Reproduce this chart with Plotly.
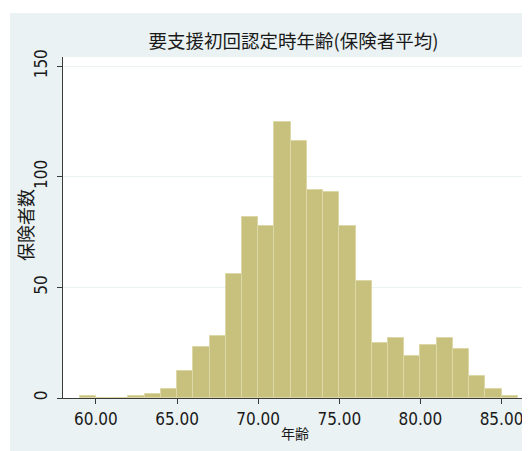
import plotly.graph_objects as go

# ---- data ----
bin_left_edges = [59, 60, 61, 62, 63, 64, 65, 66, 67, 68, 69, 70, 71, 72, 73,
                  74, 75, 76, 77, 78, 79, 80, 81, 82, 83, 84, 85]
counts = [1, 0, 0, 1, 2, 4, 12, 23, 28, 56, 82, 78, 125, 116, 94,
          93, 78, 53, 25, 27, 19, 24, 27, 22, 10, 4, 1]
bin_width = 1.0

x_tick_vals = [60, 65, 70, 75, 80, 85]
x_tick_text = ["60.00", "65.00", "70.00", "75.00", "80.00", "85.00"]
y_tick_vals = [0, 50, 100, 150]
y_tick_text = ["0", "50", "100", "150"]

title_text = "要支援初回認定時年齢(保険者平均)"
x_title = "年齢"
y_title = "保険者数"

# ---- style ----
BG = "#EAF2F3"
BAR = "#C8C17E"
BAR_LINE = "#DCD7A6"
AXIS = "#3a3a3a"
CJK = "Noto Sans CJK JP, Noto Sans CJK SC, sans-serif"
NUM = "Liberation Sans Narrow, Arial Narrow, DejaVu Sans Condensed, Liberation Sans, Arial, sans-serif"

# the page body has an 8px margin, so the figure is 8px smaller than the window
W, H = 522, 443

fig = go.Figure()
fig.add_trace(go.Bar(
    x=bin_left_edges, y=counts, width=bin_width, offset=0,
    marker=dict(color=BAR, line=dict(color=BAR_LINE, width=1)),
    hoverinfo="x+y", showlegend=False,
))

fig.update_layout(
    width=W, height=H,
    margin=dict(l=55, r=3, t=49, b=53, autoexpand=False),
    paper_bgcolor="white", plot_bgcolor="white",
    bargap=0,
    title=dict(text=title_text, x=285.5 / W, xref="container", xanchor="center",
               y=1 - 33.7 / H, yref="container", yanchor="middle",
               font=dict(family=CJK, size=18.5, color="#1a1a1a")),
    shapes=[
        dict(type="rect", xref="paper", yref="paper", x0=-0.1142, x1=1.2,
             y0=-0.3, y1=1.129, fillcolor=BG, line=dict(width=0), layer="below"),
        dict(type="rect", xref="paper", yref="paper", x0=0, x1=1,
             y0=0, y1=1, fillcolor="white", line=dict(width=0), layer="below"),
    ],
    annotations=[
        dict(text=y_title, xref="paper", yref="paper", x=-0.0819, y=0.507,
             xanchor="center", yanchor="middle", textangle=-90, showarrow=False,
             font=dict(family=CJK, size=18, color="#1a1a1a")),
    ],
    xaxis=dict(
        range=[57.97, 86.57], tickvals=x_tick_vals, ticktext=x_tick_text,
        showgrid=False, zeroline=False, showline=True, linecolor=AXIS, linewidth=1,
        ticks="outside", ticklen=5, tickcolor=AXIS, tickwidth=1,
        ticklabelstandoff=1,
        tickfont=dict(family=NUM, size=17, color="#1a1a1a"),
        title=dict(text=x_title, standoff=0, font=dict(family=CJK, size=14, color="#1a1a1a")),
    ),
    yaxis=dict(
        range=[0, 154.2], tickvals=y_tick_vals, ticktext=y_tick_text,
        showgrid=True, gridcolor=BG, gridwidth=1, zeroline=False,
        showline=True, linecolor=AXIS, linewidth=1,
        ticks="outside", ticklen=5, tickcolor=AXIS, tickwidth=1,
        tickangle=-90, ticklabelstandoff=3,
        tickfont=dict(family=NUM, size=17, color="#1a1a1a"),
    ),
)

fig.write_html("out.html")
